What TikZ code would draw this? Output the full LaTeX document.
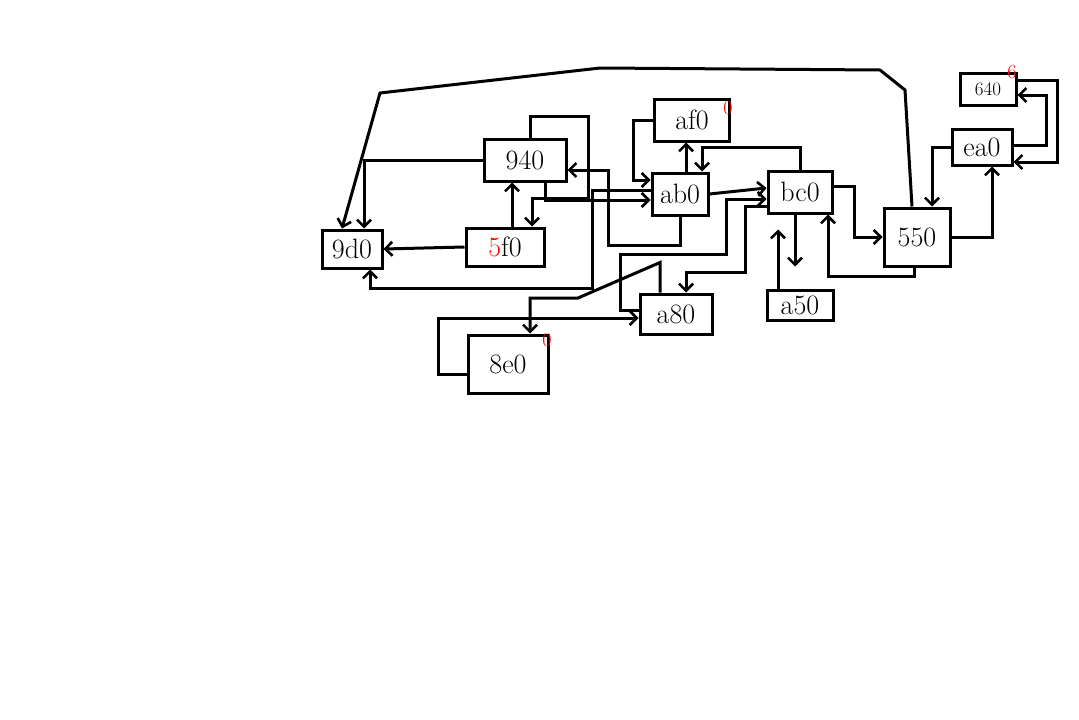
\documentclass[tikz,border=0pt]{standalone}
\usepackage{xcolor}
\usepackage{tikz}
\usetikzlibrary{arrows.meta, positioning, calc}
\tikzset{
  box/.style     = {rectangle, draw=black, line width=3pt, inner sep=0pt,
                    font=\fontsize{28}{30}\selectfont},
  arr/.style     = {-{Straight Barb[length=7pt,width=14pt,line width=2.6pt]},
                    line width=3pt, draw=black},
  redmark/.style = {text=red, inner sep=0pt, font=\fontsize{20}{22}\selectfont},
}

\begin{document}
\begin{tikzpicture}[x=1pt, y=-1pt]
  \useasboundingbox (0,0) rectangle (1079,720);

  % ── Left group ──────────────────────────────────────────────────
  \node[box, minimum width=60pt, minimum height=38pt] (n9d0) at (352,249) {9d0};
  \node[box, minimum width=82pt, minimum height=42pt] (n940) at (525,160) {940};
  \node[box, minimum width=78pt, minimum height=38pt] (n5f0) at (505,247)
    {\textcolor{red}{5}f0};

  % ── Middle group ────────────────────────────────────────────────
  \node[box, minimum width=75pt, minimum height=42pt] (naf0) at (692,120) {af0};
  \node[box, minimum width=56pt, minimum height=42pt] (nab0) at (680,194) {ab0};
  \node[box, minimum width=64pt, minimum height=42pt] (nbc0) at (800,192) {bc0};
  \node[box, minimum width=72pt, minimum height=40pt] (na80) at (676,314) {a80};
  \node[box, minimum width=66pt, minimum height=30pt] (na50) at (800,305) {a50};
  \node[box, minimum width=80pt, minimum height=58pt] (n8e0) at (508,364) {8e0};

  % ── Right group ─────────────────────────────────────────────────
  \node[box, minimum width=66pt, minimum height=58pt] (n550) at (917,237) {550};
  \node[box, minimum width=60pt, minimum height=36pt] (nea0) at (982,147) {ea0};
  \node[box, minimum width=56pt, minimum height=32pt,
        font=\fontsize{19}{21}\selectfont] (n640) at (988,89) {640};

  % red notes on the boxes
  \node[redmark] (maf0) at (728,108) {0};
  \node[redmark] (m640) at (1012,72) {6};
  \node[redmark] (m8e0) at (547,340) {0};

  % ── Arrows ──────────────────────────────────────────────────────
  \draw[arr] (n5f0.west) -- (n9d0.east);
  \draw[arr] ([xshift=7pt]n5f0.north) -- ([xshift=-13pt]n940.south);
  \draw[arr] (n940.west) -| ([xshift=12pt]n9d0.north);
  \draw[arr] ([xshift=5pt]n940.north) -- ++(0,-21) -| ++(58,82)
    -| ([xshift=27pt]n5f0.north);
  \draw[arr] ([xshift=20pt]n940.south) |- ([yshift=-6pt]nab0.west);
  \draw[arr] (nab0.south) |- (608,245) |- ([yshift=-10pt]n940.east);
  \draw[arr] ([yshift=4pt]nab0.west) -| (592,288) -| ([xshift=18pt]n9d0.south);

  % big loop over the top
  \draw[arr] ([xshift=-5pt]n550.north) -- (905,90) -- (880,70) -- (600,68)
    -- (380,93) -- ([xshift=-10pt]n9d0.north);

  \draw[arr] (naf0.west) -| (633,180) -- ([yshift=14pt]nab0.west);
  \draw[arr] ([xshift=6pt]nab0.north) -- ([xshift=-6pt]naf0.south);
  \draw[arr] (nab0.east) -- ([yshift=4pt]nbc0.west);
  \draw[arr] (nbc0.north) -- ++(0,-22) -| ([xshift=22pt]nab0.north);

  \draw[arr] ([yshift=4pt]na80.west) -| (620,254) -| (726,199)
    -- ([yshift=-7pt]nbc0.west);
  \draw[arr] ([yshift=-14pt]nbc0.west) -| (745,272) -| ([xshift=10pt]na80.north);
  \draw[arr] ([xshift=-16pt]na80.north) -- ++(0,-30) -- (578,298)
    -| ([xshift=22pt]n8e0.north);
  \draw[arr] ([yshift=-10pt]n8e0.west) -- ++(-28,0) |- ([yshift=-4pt]na80.west);

  \draw[arr] ([yshift=6pt]nbc0.east) -- ++(21,0) |- (n550.west);
  \draw[arr] ([xshift=-3pt]n550.south) |- (828,276) -- ([xshift=28pt]nbc0.south);
  \draw[arr, shorten >=22pt] ([xshift=-5pt]nbc0.south) -- ([xshift=-5pt]na50.north);
  \draw[arr, shorten >=15pt] ([xshift=-22pt]na50.north) -- ([xshift=-22pt]nbc0.south);

  \draw[arr] (n550.east) -| ([xshift=10pt]nea0.south);
  \draw[arr] (nea0.west) -| ([xshift=15pt]n550.north);
  \draw[arr] ([yshift=2pt]nea0.east) -- ++(33,0) |- ([yshift=-6pt]n640.east);
  \draw[arr] ([yshift=9pt]n640.east) -- ++(40,0) |- ([yshift=-15pt]nea0.east);

\end{tikzpicture}
\end{document}
